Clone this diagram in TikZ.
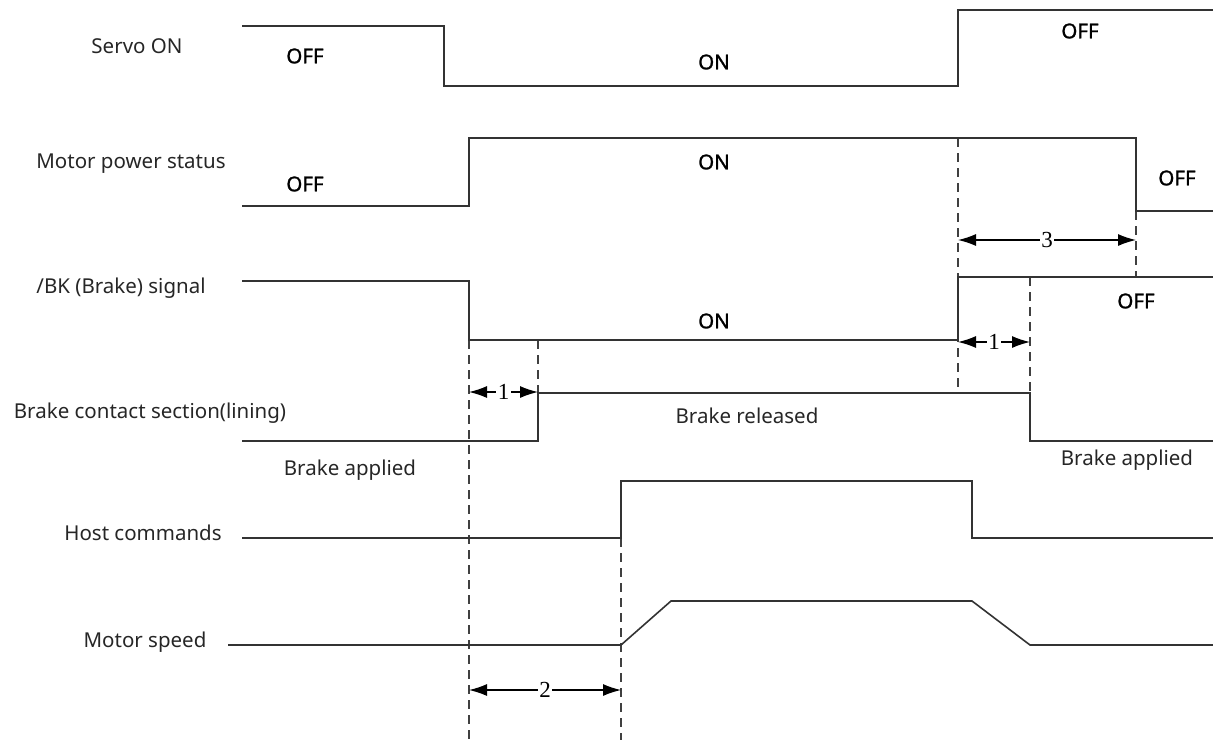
\documentclass[tikz,border=0pt]{standalone}
\usepackage{fontspec}
\setmainfont{Noto Sans}
\newfontfamily\statefont{Noto Sans}[FakeBold=1.2]
\newfontfamily\dimfont{Liberation Serif}
\usetikzlibrary{arrows.meta}

\begin{document}
\begin{tikzpicture}[
  x=1pt, y=-1pt,
  font=\fontsize{20.5}{24}\selectfont,
  >={Latex[length=18pt,width=12pt]},
  sig/.style={line width=1.6pt, draw=black!80},
  guide/.style={line width=1.2pt, draw=black!75, dash pattern=on 9pt off 6pt},
  dim/.style={<->, line width=1.3pt, draw=black},
  lbl/.style={inner sep=0pt, text=black!85},
  state/.style={inner sep=0pt, font=\fontsize{20.5}{24}\statefont},
  dimlabel/.style={fill=white, inner sep=1.5pt, font=\fontsize{23}{24}\dimfont}
]
  \useasboundingbox (0,0) rectangle (1213,740);

  % signal names
  \node[lbl] (servo) at (137,46) {Servo ON};
  \node[lbl] (power) at (131,164) {Motor power status};
  \node[lbl] (bk) at (121,288) {/BK (Brake) signal};
  \node[lbl] (lining) at (150,413) {Brake contact section(lining)};
  \node[lbl] (host) at (143,533) {Host commands};
  \node[lbl] (speed) at (145,642) {Motor speed};

  % guide lines
  \draw[guide] (469,340) -- (469,740);
  \draw[guide] (538,340) -- (538,393);
  \draw[guide] (621,538) -- (621,740);
  \draw[guide] (958,138) -- (958,393);
  \draw[guide] (1136,211) -- (1136,277);
  \draw[guide] (1030,277) -- (1030,393);

  % waveforms
  \draw[sig] (242,26) -- (444,26) -- (444,86) -- (958,86) -- (958,10) -- (1213,10);
  \draw[sig] (242,206) -- (469,206) -- (469,138) -- (1136,138) -- (1136,211) -- (1213,211);
  \draw[sig] (242,281) -- (469,281) -- (469,340) -- (958,340) -- (958,277) -- (1213,277);
  \draw[sig] (242,441) -- (538,441) -- (538,393) -- (1030,393) -- (1030,441) -- (1213,441);
  \draw[sig] (242,538) -- (621,538) -- (621,481) -- (972,481) -- (972,538) -- (1213,538);
  \draw[sig] (228,645) -- (621,645) -- (671,601) -- (972,601) -- (1030,645) -- (1213,645);

  % states
  \node[state] (servo-off1) at (305,56) {OFF};
  \node[state] (servo-on) at (714,62) {ON};
  \node[state] (servo-off2) at (1080,31) {OFF};
  \node[state] (power-off1) at (305,184) {OFF};
  \node[state] (power-on) at (714,162) {ON};
  \node[state] (power-off2) at (1177,178) {OFF};
  \node[state] (bk-on) at (714,321) {ON};
  \node[state] (bk-off) at (1136,301) {OFF};
  \node[lbl] (released) at (747,416) {Brake released};
  \node[lbl] (applied1) at (350,470) {Brake applied};
  \node[lbl] (applied2) at (1127,460) {Brake applied};

  % delay marks
  \coordinate (t3a) at (958,240);
  \coordinate (t3b) at (1136,240);
  \coordinate (t1a) at (958,342);
  \coordinate (t1b) at (1030,342);
  \coordinate (t1c) at (469,392);
  \coordinate (t1d) at (538,392);
  \coordinate (t2a) at (469,690);
  \coordinate (t2b) at (621,690);

  \draw[dim] (t3a) -- node[dimlabel] {3} (t3b);
  \draw[dim] (t1a) -- node[dimlabel] {1} (t1b);
  \draw[dim] (t1c) -- node[dimlabel] {1} (t1d);
  \draw[dim] (t2a) -- node[dimlabel] {2} (t2b);
\end{tikzpicture}
\end{document}
